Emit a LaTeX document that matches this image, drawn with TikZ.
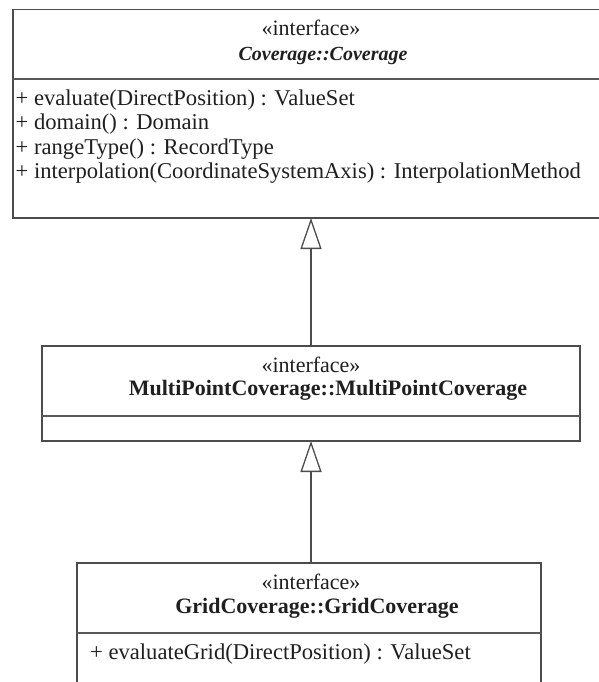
\documentclass[tikz,border=0pt]{standalone}
\usepackage{fontspec}
\setmainfont{Liberation Serif}
\usetikzlibrary{arrows.meta}
\begin{document}
\begin{tikzpicture}[x=1pt,y=-1pt,
  box/.style={draw=black!70, line width=1.5pt, rectangle, inner sep=0pt, outer sep=0pt},
  divider/.style={draw=black!65, line width=1.5pt},
  txt/.style={inner sep=0pt, font=\fontsize{22}{26}\selectfont, text=black!88},
  op/.style={txt, font=\fontsize{22.6}{26}\selectfont},
  ttl/.style={txt, font=\bfseries\fontsize{22}{26}\selectfont},
  gen/.style={draw=black!70, line width=1.3pt, -{Triangle[open, length=31pt, width=21pt, line width=1.3pt]}}
]
\useasboundingbox (0,0) rectangle (598,682);

% boxes
\node[box, minimum width=596pt, minimum height=208.5pt] (cov) at (311,113.75) {};
\draw[divider] (13,79) -- (609,79);
\node[box, minimum width=538pt, minimum height=95pt] (mp) at (311,393.5) {};
\draw[divider] (42,416) -- (580,416);
\node[box, minimum width=464pt, minimum height=157pt] (gc) at (309,641.5) {};
\draw[divider] (77,633) -- (541,633);

% Coverage::Coverage
\node[txt, anchor=mid] (cs) at (311,33) {«interface»};
\node[txt, anchor=mid, font=\bfseries\itshape\fontsize{20}{24}\selectfont] (ct) at (323,58) {Coverage::Coverage};
\node[op, anchor=mid west] (m1) at (15.5,103) {+ evaluate(DirectPosition) : ValueSet};
\node[op, anchor=mid west] (m2) at (15.5,127) {+ domain() : Domain};
\node[op, anchor=mid west] (m3) at (15.5,152) {+ rangeType() : RecordType};
\node[op, anchor=mid west] (m4) at (15.5,176) {+ interpolation(CoordinateSystemAxis) : InterpolationMethod};

% MultiPointCoverage
\node[txt, anchor=mid] (ms) at (311,370) {«interface»};
\node[ttl, anchor=mid] (mt) at (328,393) {MultiPointCoverage::MultiPointCoverage};

% GridCoverage
\node[txt, anchor=mid] (gs) at (311,587) {«interface»};
\node[ttl, anchor=mid] (gt) at (317,611) {GridCoverage::GridCoverage};
\node[op, anchor=mid west] (g1) at (90,657) {+ evaluateGrid(DirectPosition) : ValueSet};

% generalizations
\draw[gen] (mp.north) -- (cov.south);
\draw[gen] (gc.north -| mp.south) -- (mp.south);
\end{tikzpicture}
\end{document}
